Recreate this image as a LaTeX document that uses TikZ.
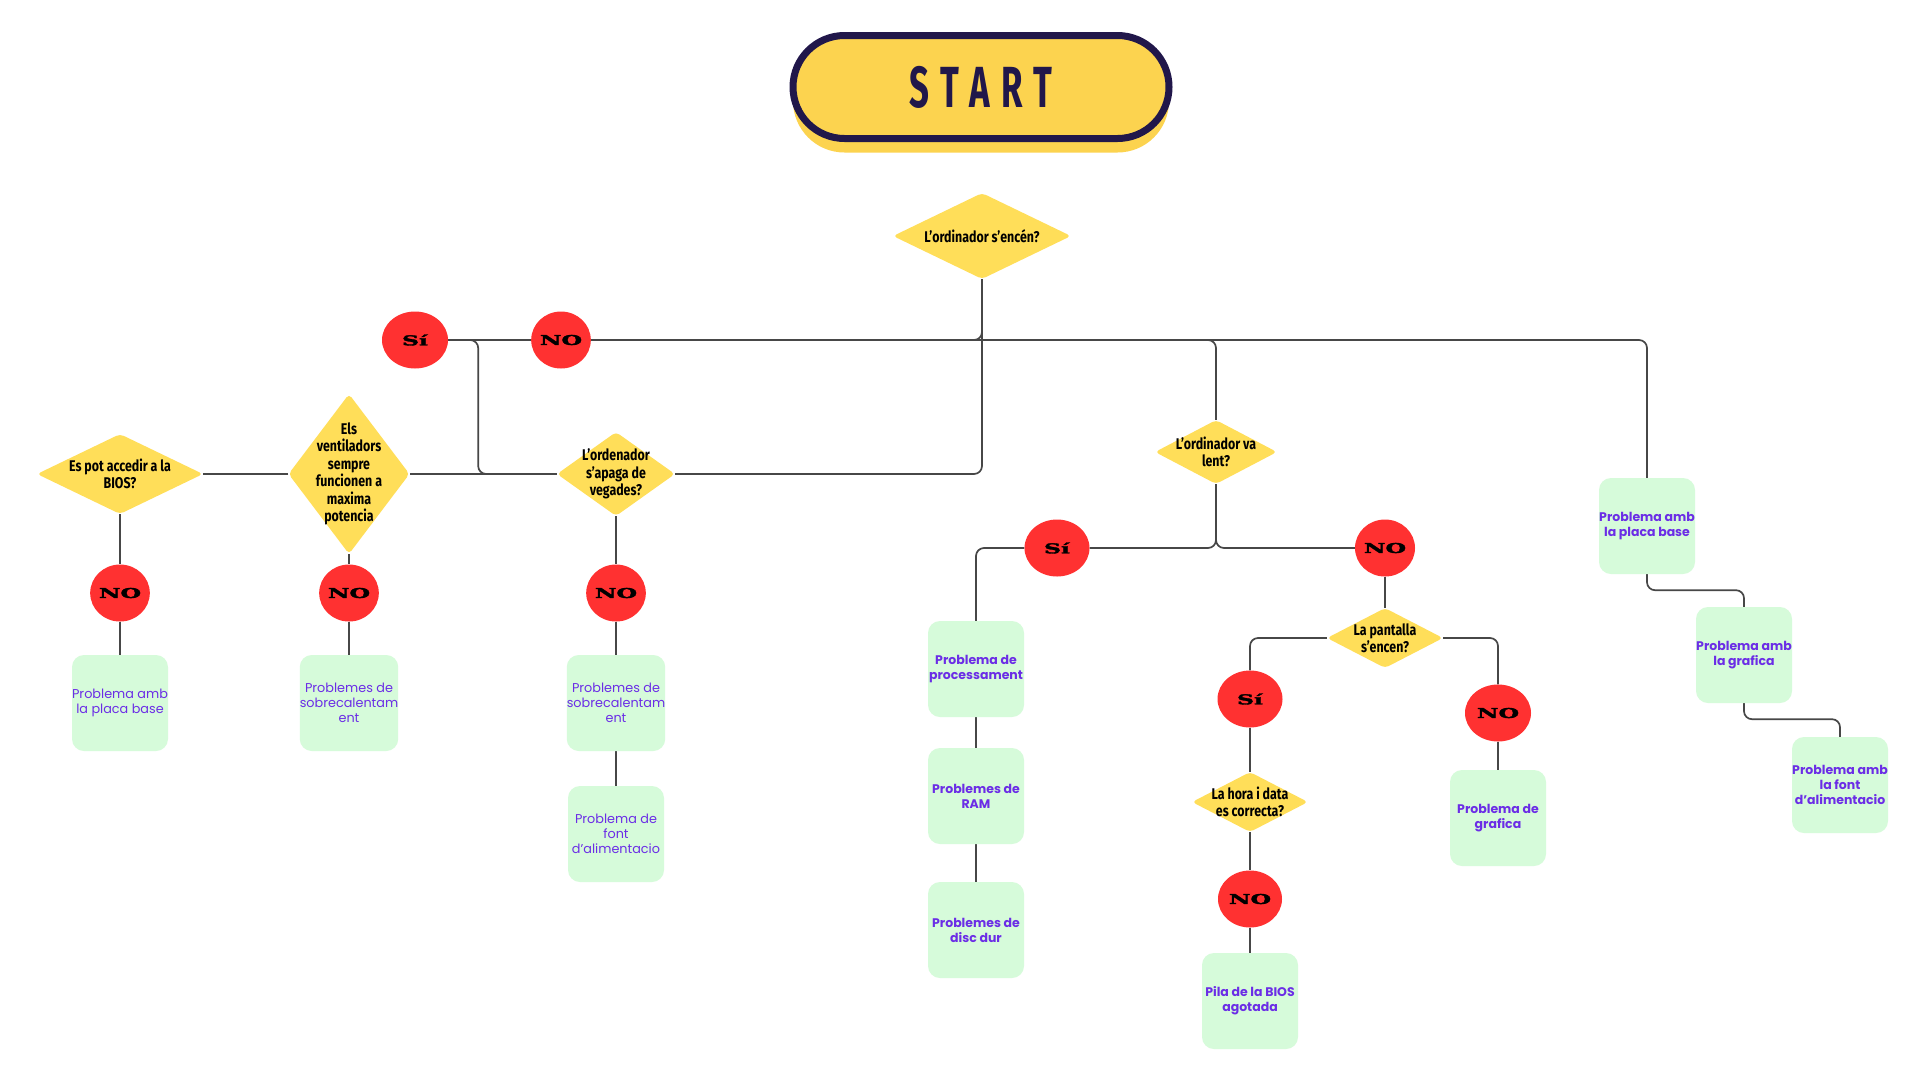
\documentclass[tikz,border=0pt]{standalone}
\usepackage{fontspec}
\setmainfont{Fira Sans}
\newfontfamily\questionfont[FakeStretch=0.8]{Fira Sans}
\newfontfamily\startfont[FakeStretch=0.6,LetterSpace=20]{Fira Sans}
\newfontfamily\answerfont[FakeStretch=1.75,FakeBold=2.5]{DejaVu Serif}
\newfontfamily\resultfont{Poppins}
\usetikzlibrary{shapes.geometric,backgrounds}
\definecolor{startyellow}{HTML}{FCD34F}
\definecolor{navy}{HTML}{21174A}
\definecolor{qyellow}{HTML}{FFDE59}
\definecolor{ansred}{HTML}{FF3131}
\definecolor{resgreen}{HTML}{D6FBDA}
\definecolor{respurple}{HTML}{6B2DE6}
\definecolor{linegray}{HTML}{474747}
\tikzset{
	startbox/.style={rectangle, rounded corners=51.5, minimum width=376, minimum height=103, fill=startyellow},
	decision/.style 2 args={diamond, fill=qyellow, inner sep=0pt, minimum width=#1, minimum height=#2, rounded corners=4},
	qtext/.style={align=center, font=\questionfont\bfseries\fontsize{15.5}{17.5}\selectfont},
	answer/.style={ellipse, fill=ansred, inner sep=0pt, minimum width=#1, minimum height=57, font=\answerfont\bfseries\fontsize{13.5}{14}\selectfont},
	answer/.default=60,
	result/.style={rectangle, rounded corners=12, fill=resgreen, minimum width=96, minimum height=96, inner sep=0pt, align=center, text=respurple, font=\resultfont\bfseries\fontsize{12.5}{15}\selectfont},
	plainres/.style={result, font=\resultfont\fontsize{12.8}{15}\selectfont},
	connect/.style={draw=linegray, line width=1.7, rounded corners=8}
}

\begin{document}
\begin{tikzpicture}[x=1pt, y=-1pt]
\useasboundingbox (0,0) rectangle (1920,1080);

% start button with its shadow
\node[startbox] (shadow) at (981,101) {};
\node[startbox, draw=navy, line width=7, text=navy, font=\startfont\bfseries\fontsize{58}{58}\selectfont] (start) at (981,87) {START};

% questions
\node[decision={178}{86}] (encen) at (982,236) {};
\node[qtext] (encen-t) at (encen) {L’ordinador s’encén?};
\node[decision={166}{80}] (bios) at (120,474) {};
\node[qtext] (bios-t) at (bios) {Es pot accedir a la\\BIOS?};
\node[decision={121}{160}] (vent) at (349,474) {};
\node[qtext] (vent-t) at (vent) {Els\\ventiladors\\sempre\\funcionen a\\maxima\\potencia};
\node[decision={118}{84}] (apaga) at (616,474) {};
\node[qtext] (apaga-t) at (apaga) {L’ordenador\\s’apaga de\\vegades?};
\node[decision={122}{64}] (lent) at (1216,452) {};
\node[qtext] (lent-t) at (lent) {L’ordinador va\\lent?};
\node[decision={116}{60}] (pant) at (1385,638) {};
\node[qtext] (pant-t) at (pant) {La pantalla\\s’encen?};
\node[decision={116}{60}] (hora) at (1250,802) {};
\node[qtext] (hora-t) at (hora) {La hora i data\\es correcta?};

% answers
\node[answer=66] (si1) at (415,340) {Sí};
\node[answer=58] (no1) at (561,340) {NO};
\node[answer=59] (nobios) at (120,593) {NO};
\node[answer=59] (novent) at (349,593) {NO};
\node[answer=58] (noapaga) at (616,593) {NO};
\node[answer=65] (si2) at (1057,548) {Sí};
\node[answer=60] (no2) at (1385,548) {NO};
\node[answer=65] (si3) at (1250,699) {Sí};
\node[answer=64] (no3) at (1250,899) {NO};
\node[answer=66] (no4) at (1498,713) {NO};

% results
\node[plainres] (placa1) at (120,703) {Problema amb\\la placa base};
\node[plainres] (sobre1) at (349,703) {Problemes de\\sobrecalentam\\ent};
\node[plainres] (sobre2) at (616,703) {Problemes de\\sobrecalentam\\ent};
\node[plainres] (font1) at (616,834) {Problema de\\font\\d’alimentacio};
\node[result] (proc) at (976,669) {Problema de\\processament};
\node[result] (ram) at (976,796) {Problemes de\\RAM};
\node[result] (disc) at (976,930) {Problemes de\\disc dur};
\node[result] (pila) at (1250,1001) {Pila de la BIOS\\agotada};
\node[result] (graf1) at (1498,818) {Problema de\\grafica};
\node[result] (placa2) at (1647,526) {Problema amb\\la placa base};
\node[result] (graf2) at (1744,655) {Problema amb\\la grafica};
\node[result] (font2) at (1840,785) {Problema amb\\la font\\d’alimentacio};

% connectors
\begin{scope}[on background layer]
\fill[white] (0,0) rectangle (1920,1080);
\draw[connect] (encen.south) |- (si1.east);
\draw[connect] (si1.east) -- ++(30,0) |- (apaga.west);
\draw[connect] (apaga.east) -| (encen.south);
\draw[connect] (no1.east) -| (lent.north);
\draw[connect] (no1.east) -| (placa2.north);
\draw[connect] (apaga.west) -- (vent.east);
\draw[connect] (vent.west) -- (bios.east);
\draw[connect] (bios) -- (nobios) -- (placa1);
\draw[connect] (vent) -- (novent) -- (sobre1);
\draw[connect] (apaga) -- (noapaga) -- (sobre2) -- (font1);
\draw[connect] (lent.south) |- (si2.east);
\draw[connect] (lent.south) |- (no2.west);
\draw[connect] (si2.west) -| (proc.north);
\draw[connect] (proc) -- (ram) -- (disc);
\draw[connect] (no2) -- (pant);
\draw[connect] (pant.west) -| (si3.north);
\draw[connect] (si3) -- (hora) -- (no3) -- (pila);
\draw[connect] (pant.east) -| (no4.north);
\draw[connect] (no4) -- (graf1);
\draw[connect] (placa2.south) -- ++(0,16) -| (graf2.north);
\draw[connect] (graf2.south) -- ++(0,16) -| (font2.north);
\end{scope}
\end{tikzpicture}
\end{document}
